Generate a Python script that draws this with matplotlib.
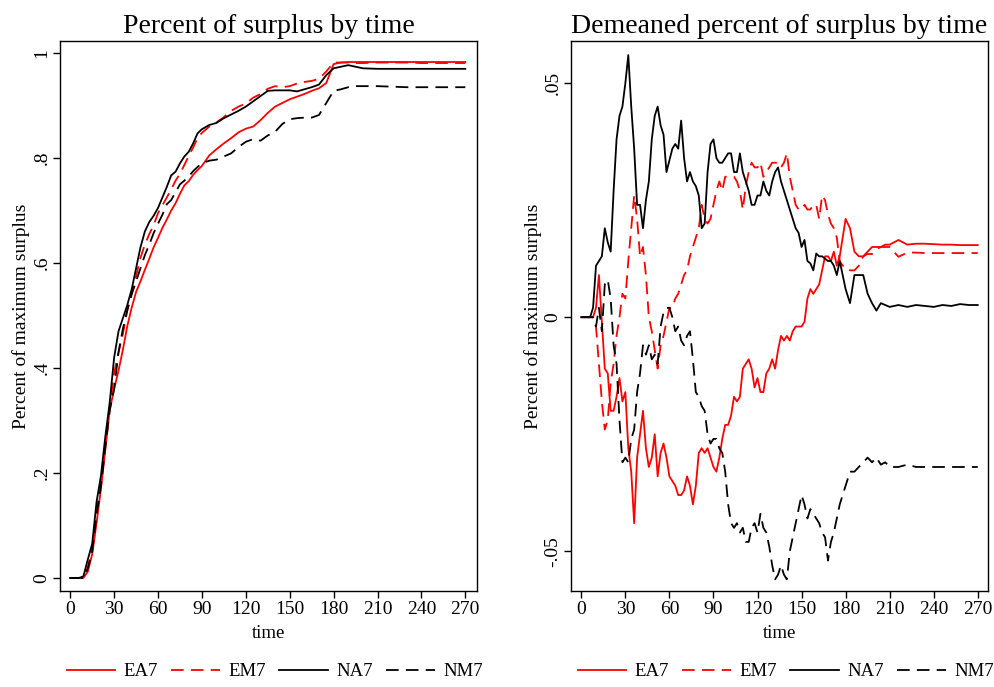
import matplotlib
matplotlib.use("Agg")
import matplotlib.pyplot as plt

plt.rcParams['font.family'] = ['Liberation Serif', 'DejaVu Serif']

# --- time grids ---
time_left = [0, 3, 6, 9, 12, 15, 18, 21, 24, 27, 30, 33, 36, 39, 42, 45, 48, 51, 54, 57,
             60, 63, 66, 69, 72, 75, 78, 81, 84, 87, 90,
             95, 100, 105, 110, 115, 120, 125, 130, 135, 140, 145, 150, 155, 160, 165,
             170, 175, 180, 185, 190, 195, 200,
             210, 220, 230, 240, 250, 260, 270]

time_right = list(range(0, 181, 2)) + list(range(183, 211, 3)) + list(range(216, 271, 6))

# --- left panel: percent of maximum surplus ---
ea7_left = [0, 0, 0, 0, .012, .045, .105, .17, .245, .32, .36, .395, .435, .48, .515, .545, .565, .587, .608, .63,
            .648, .667, .683, .70, .714, .732, .748, .756, .768, .777, .785,
            .805, .817, .828, .838, .849, .856, .86, .872, .886, .898, .905, .912, .917, .922, .928,
            .933, .943, .979, .982, .983, .983, .983,
            .983, .983, .983, .983, .983, .983, .983]

em7_left = [0, 0, 0, 0, .02, .055, .125, .18, .255, .325, .39, .43, .465, .51, .545, .575, .61, .635, .655, .672,
            .695, .71, .725, .74, .757, .77, .787, .804, .82, .838, .848,
            .86, .868, .878, .89, .898, .904, .915, .922, .932, .937, .935, .937, .942, .945, .947,
            .951, .965, .982, .982, .982, .981, .981,
            .982, .982, .982, .981, .981, .981, .981]

na7_left = [0, 0, 0, .003, .035, .065, .145, .195, .27, .335, .42, .47, .495, .52, .55, .59, .63, .66, .678, .69,
            .705, .725, .745, .767, .774, .79, .803, .812, .828, .847, .855,
            .863, .867, .876, .883, .89, .898, .908, .918, .928, .929, .929, .929, .927, .931, .935,
            .94, .958, .971, .974, .977, .974, .971,
            .97, .97, .97, .97, .97, .97, .97]

nm7_left = [0, 0, 0, 0, .018, .05, .12, .175, .25, .32, .36, .43, .475, .51, .54, .565, .59, .615, .635, .657,
            .675, .692, .712, .72, .735, .75, .757, .765, .775, .783, .79,
            .795, .797, .803, .809, .821, .831, .836, .833, .843, .85, .865, .874, .876, .877, .877,
            .882, .905, .928, .931, .935, .937, .937,
            .937, .936, .935, .935, .935, .935, .935]

# --- right panel: demeaned percent of surplus ---
na7_right = [0, 0, 0, 0, .002, .011, .012, .013, .019, .016, .014, .027, .038, .043, .045, .050, .056, .045, .036, .024,
             .024, .019, .025, .029, .038, .043, .045, .041, .039, .031, .0335, .036, .037, .036, .042, .034, .029, .031,
             .029, .028, .026, .019, .020, .031, .037, .038, .034, .033, .033, .034, .035, .035, .031, .031, .035, .031,
             .029, .027, .024, .024, .026, .026, .029, .027, .026, .029, .031, .032, .029, .027, .025, .023, .021, .019,
             .018, .015, .0165, .012, .0115, .010, .0136, .013, .013, .0125, .012, .012, .011, .009, .012, .009, .006,
             .003, .009, .009, .009, .005, .003, .0014, .003, .0026, .0022,
             .0026, .0022, .0026, .0024, .0022, .0026, .0024, .0028, .0026, .0026]

ea7_right = [0, 0, 0, 0, 0, .002, .009, -.001, -.011, -.012, -.020, -.020, -.017, -.013, -.018, -.016, -.028, -.033,
             -.044, -.030, -.025, -.020, -.028, -.032, -.030, -.025, -.034, -.029, -.027, -.030, -.034, -.035, -.036,
             -.038, -.038, -.037, -.034, -.036, -.040, -.036, -.029, -.028, -.029, -.028, -.030, -.032, -.033, -.030,
             -.026, -.023, -.023, -.021, -.017, -.018, -.017, -.011, -.010, -.009, -.011, -.015, -.013, -.016, -.016,
             -.012, -.011, -.009, -.011, -.007, -.004, -.005, -.004, -.005, -.003, -.002, -.002, -.002, -.001, .004,
             .006, .005, .006, .007, .010, .013, .013, .012, .014, .011, .013, .017, .021,
             .019, .014, .013, .013, .014, .015, .015, .015, .0155, .0155,
             .0165, .0155, .0157, .0157, .0156, .0155, .0155, .0154, .0154, .0154]

em7_right = [0, 0, 0, 0, 0, -.002, -.010, -.018, -.024, -.022, -.014, -.010, -.004, .000, .005, .004, .012, .019,
             .026, .021, .013, .015, .009, .000, -.003, -.007, -.011, -.006, -.004, -.001, .002, .002, .004, .005,
             .007, .009, .010, .013, .015, .017, .019, .024, .021, .020, .021, .024, .027, .029, .027, .030, .030,
             .030, .030, .029, .027, .023, .028, .031, .033, .032, .032, .033, .030, .031, .032, .033, .033, .033,
             .032, .033, .035, .030, .027, .024, .023, .023, .024, .023, .023, .024, .024, .021, .026, .025, .022,
             .020, .019, .017, .012, .011, .011,
             .010, .010, .011, .013, .0135, .0135, .0145, .015, .015, .015,
             .0129, .0138, .0138, .0137, .0137, .0137, .0137, .0137, .0137, .0137]

nm7_right = [0, 0, 0, 0, 0, -.002, .002, -.003, .007, .008, .004, -.006, -.010, -.022, -.031, -.030, -.031, -.026,
             -.024, -.016, -.012, -.006, -.008, -.006, -.009, -.008, -.010, -.002, .001, .002, .002, .000, -.003,
             -.002, -.005, -.006, -.004, -.003, -.009, -.016, -.017, -.019, -.020, -.025, -.027, -.026, -.026, -.028,
             -.029, -.033, -.040, -.044, -.045, -.044, -.046, -.045, -.048, -.048, -.045, -.044, -.046, -.042, -.045,
             -.046, -.049, -.053, -.056, -.055, -.053, -.055, -.056, -.050, -.047, -.044, -.041, -.038, -.040, -.043,
             -.041, -.042, -.043, -.044, -.046, -.047, -.052, -.048, -.046, -.043, -.040, -.038, -.036,
             -.033, -.033, -.032, -.031, -.030, -.031, -.030, -.0315, -.031, -.032,
             -.032, -.0315, -.032, -.032, -.032, -.032, -.032, -.032, -.032, -.032]

labels = ["EA7", "EM7", "NA7", "NM7"]
colors = ["red", "red", "black", "black"]
dashed = [False, True, False, True]

fig = plt.figure(figsize=(9.95, 6.87), dpi=100)
ax1 = fig.add_axes([0.0603, 0.1397, 0.4191, 0.8006])
ax2 = fig.add_axes([0.5739, 0.1397, 0.4191, 0.8006])


def draw(ax, t, series):
    handles = []
    for s, lab, c, d in zip(series, labels, colors, dashed):
        if d:
            h, = ax.plot(t, s, color=c, lw=1.3, dashes=(7, 4), label=lab)
        else:
            h, = ax.plot(t, s, color=c, lw=1.3, label=lab)
        handles.append(h)
    ax.set_xticks(range(0, 271, 30))
    ax.set_xlabel("time", fontsize=13.5, labelpad=5)
    ax.set_ylabel("Percent of maximum surplus", fontsize=14, labelpad=2)
    ax.tick_params(axis='both', labelsize=14, direction='out', length=5, width=1, pad=2)
    for sp in ax.spines.values():
        sp.set_linewidth(1.0)
    ax.legend(handles=handles, ncol=4, loc='center', bbox_to_anchor=(0.515, -0.147),
              frameon=False, fontsize=13.5, handlelength=2.6, columnspacing=0.7,
              handletextpad=0.45, borderpad=0.1)


draw(ax1, time_left, [ea7_left, em7_left, na7_left, nm7_left])
ax1.set_xlim(-7, 278)
ax1.set_ylim(-0.025, 1.023)
ax1.set_yticks([0, .2, .4, .6, .8, 1])
ax1.set_yticklabels(["0", ".2", ".4", ".6", ".8", "1"], rotation=90, va='center')
ax1.set_title("Percent of surplus by time", fontsize=20, pad=6)

draw(ax2, time_right, [ea7_right, em7_right, na7_right, nm7_right])
ax2.set_xlim(-7, 277)
ax2.set_ylim(-0.0585, 0.059)
ax2.set_yticks([-.05, 0, .05])
ax2.set_yticklabels(["-.05", "0", ".05"], rotation=90, va='center')
ax2.set_title("Demeaned percent of surplus by time", fontsize=20, pad=6)

fig.savefig("out.png", dpi=100)
